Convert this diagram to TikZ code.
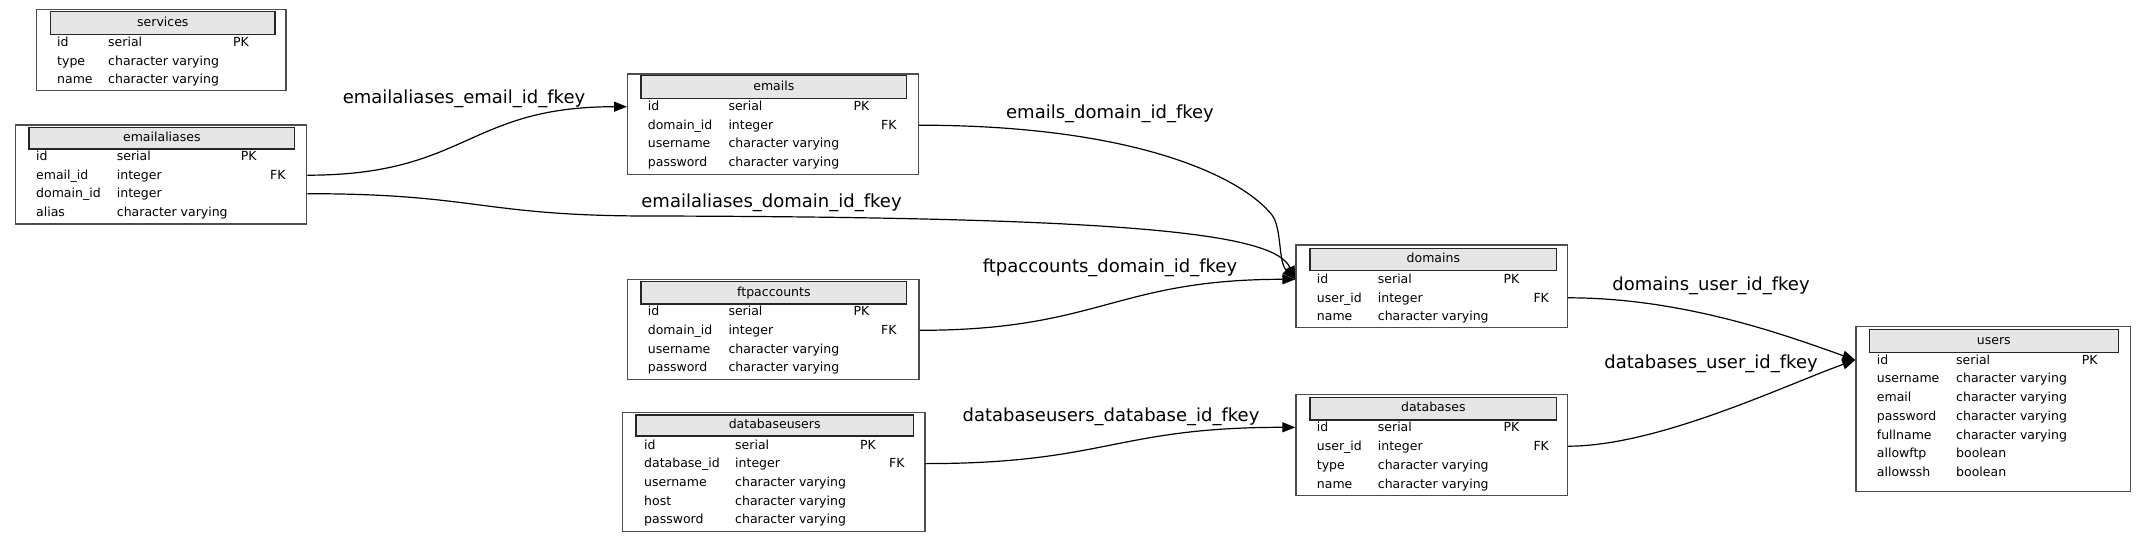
\documentclass[tikz,border=0pt]{standalone}
\usepackage{fontspec}
\setmainfont{DejaVu Sans}
\usepackage{xcolor}
\usepackage{tikz}
\usetikzlibrary{arrows.meta}

\definecolor{hdrgray}{HTML}{E6E6E6}
\definecolor{boxgray}{HTML}{4D4D4D}

\begin{document}
\begin{tikzpicture}[x=1pt, y=-1pt,
    tbl/.style = {draw=boxgray, line width=1.4pt, inner sep=0pt},
    hdr/.style = {draw=black!85, fill=hdrgray, line width=1.2pt, inner sep=0pt, font=\fontsize{12.5}{15}\selectfont, text height=9.5pt, text depth=3pt},
    fld/.style = {anchor=west, inner sep=0pt, font=\fontsize{12.5}{15}\selectfont, text height=10.5pt, text depth=2pt},
    fk/.style = {line width=1.2pt, -{Triangle[length=13pt, width=10pt]}},
    lbl/.style = {inner sep=0pt, font=\fontsize{18}{22}\selectfont, text height=15.5pt, text depth=4.5pt}]
    \useasboundingbox (0,0) rectangle (2147,541);

    % 表定义
    \node[tbl, minimum width=249.3pt, minimum height=81.4pt] (services) at (161.35,50) {};
    \node[hdr, minimum width=224.3pt, minimum height=22.6pt] (services-h) at (162.85,23) {services};
    \foreach \f/\t [count=\i] in {id/serial, type/character varying, name/character varying} {
        \node[fld] (services-\i) at (57,{42.7+18.5*(\i-1)}) {\f};
        \node[fld] (services-t\i) at (108,{42.7+18.5*(\i-1)}) {\t};
    }
    \node[fld] (services-pk) at (233,42.7) {PK};

    \node[tbl, minimum width=291pt, minimum height=99pt] (emailaliases) at (161.2,174.5) {};
    \node[hdr, minimum width=265.7pt, minimum height=21.3pt] (emailaliases-h) at (161.85,138.35) {emailaliases};
    \foreach \f/\t [count=\i] in {id/serial, email\_id/integer, domain\_id/integer, alias/character varying} {
        \node[fld] (emailaliases-\i) at (36,{156.7+18.5*(\i-1)}) {\f};
        \node[fld] (emailaliases-t\i) at (116.7,{156.7+18.5*(\i-1)}) {\t};
    }
    \node[fld] (emailaliases-pk) at (240.7,156.7) {PK};
    \node[fld] (emailaliases-fk) at (270,175.2) {FK};

    \node[tbl, minimum width=290.6pt, minimum height=100.3pt] (emails) at (773,124.15) {};
    \node[hdr, minimum width=265.7pt, minimum height=22.6pt] (emails-h) at (773.85,87) {emails};
    \foreach \f/\t [count=\i] in {id/serial, domain\_id/integer, username/character varying, password/character varying} {
        \node[fld] (emails-\i) at (647.7,{106.7+18.5*(\i-1)}) {\f};
        \node[fld] (emails-t\i) at (728.3,{106.7+18.5*(\i-1)}) {\t};
    }
    \node[fld] (emails-pk) at (853.3,106.7) {PK};
    \node[fld] (emails-fk) at (881,125.2) {FK};

    \node[tbl, minimum width=291.3pt, minimum height=100pt] (ftpaccounts) at (773.35,329.3) {};
    \node[hdr, minimum width=265.7pt, minimum height=22.3pt] (ftpaccounts-h) at (773.85,292.85) {ftpaccounts};
    \foreach \f/\t [count=\i] in {id/serial, domain\_id/integer, username/character varying, password/character varying} {
        \node[fld] (ftpaccounts-\i) at (647.7,{311.7+18.6*(\i-1)}) {\f};
        \node[fld] (ftpaccounts-t\i) at (728.3,{311.7+18.6*(\i-1)}) {\t};
    }
    \node[fld] (ftpaccounts-pk) at (853.3,311.7) {PK};
    \node[fld] (ftpaccounts-fk) at (881,330.3) {FK};

    \node[tbl, minimum width=302.7pt, minimum height=119pt] (databaseusers) at (773.65,472.2) {};
    \node[hdr, minimum width=277.3pt, minimum height=21pt] (databaseusers-h) at (774.65,425.5) {databaseusers};
    \foreach \f/\t [count=\i] in {id/serial, database\_id/integer, username/character varying, host/character varying, password/character varying} {
        \node[fld] (databaseusers-\i) at (644,{445+18.6*(\i-1)}) {\f};
        \node[fld] (databaseusers-t\i) at (735,{445+18.6*(\i-1)}) {\t};
    }
    \node[fld] (databaseusers-pk) at (860,445) {PK};
    \node[fld] (databaseusers-fk) at (889,463.6) {FK};

    \node[tbl, minimum width=271.3pt, minimum height=82.3pt] (domains) at (1431.65,286.15) {};
    \node[hdr, minimum width=246.7pt, minimum height=22.4pt] (domains-h) at (1433.35,259.5) {domains};
    \foreach \f/\t [count=\i] in {id/serial, user\_id/integer, name/character varying} {
        \node[fld] (domains-\i) at (1316.7,{279.3+18.5*(\i-1)}) {\f};
        \node[fld] (domains-t\i) at (1377.7,{279.3+18.5*(\i-1)}) {\t};
    }
    \node[fld] (domains-pk) at (1503.3,279.3) {PK};
    \node[fld] (domains-fk) at (1533.3,297.8) {FK};

    \node[tbl, minimum width=271.3pt, minimum height=101.4pt] (databases) at (1431.65,445) {};
    \node[hdr, minimum width=246.7pt, minimum height=22.7pt] (databases-h) at (1433.35,408.65) {databases};
    \foreach \f/\t [count=\i] in {id/serial, user\_id/integer, type/character varying, name/character varying} {
        \node[fld] (databases-\i) at (1316.7,{427.3+18.9*(\i-1)}) {\f};
        \node[fld] (databases-t\i) at (1377.7,{427.3+18.9*(\i-1)}) {\t};
    }
    \node[fld] (databases-pk) at (1503.3,427.3) {PK};
    \node[fld] (databases-fk) at (1533.3,446.2) {FK};

    \node[tbl, minimum width=274.7pt, minimum height=165pt] (users) at (1993.35,409.2) {};
    \node[hdr, minimum width=249pt, minimum height=23.4pt] (users-h) at (1993.8,341) {users};
    \foreach \f/\t [count=\i] in {id/serial, username/character varying, email/character varying, password/character varying, fullname/character varying, allowftp/boolean, allowssh/boolean} {
        \node[fld] (users-\i) at (1876.7,{360+18.7*(\i-1)}) {\f};
        \node[fld] (users-t\i) at (1956,{360+18.7*(\i-1)}) {\t};
    }
    \node[fld] (users-pk) at (2081.7,360) {PK};

    % 边定义
    \draw[fk] (emailaliases.east |- emailaliases-2) .. controls +(160,0) and +(-160,0) .. (emails.west |- emails-1);
    \draw[fk] (emailaliases.east |- emailaliases-3) .. controls +(170,0) and +(-170,0) .. (650,216) .. controls (1150,217) and (1275,235) .. (domains.west |- domains-1);
    \draw[fk] (emails.east |- emails-2) .. controls +(212,0) and (1240,175) .. (1272,215) .. controls (1282,228) and (1278,262) .. (domains.west |- domains-1);
    \draw[fk] (ftpaccounts.east |- ftpaccounts-2) .. controls +(180,0) and +(-180,0) .. (domains.west |- domains-1);
    \draw[fk] (databaseusers.east |- databaseusers-2) .. controls +(180,0) and +(-180,0) .. (databases.west |- databases-1);
    \draw[fk] (domains.east |- domains-2) .. controls +(115,0) and +(-70,-25) .. (users.west |- users-1);
    \draw[fk] (databases.east |- databases-2) .. controls +(90,0) and +(-70,25) .. (users.west |- users-1);

    % 标签
    \node[lbl] (emailaliases-email-lbl) at (464,98) {emailaliases\_email\_id\_fkey};
    \node[lbl] (emailaliases-domain-lbl) at (771.5,201.7) {emailaliases\_domain\_id\_fkey};
    \node[lbl] (emails-domain-lbl) at (1110,113) {emails\_domain\_id\_fkey};
    \node[lbl] (ftpaccounts-domain-lbl) at (1110,267) {ftpaccounts\_domain\_id\_fkey};
    \node[lbl] (databaseusers-database-lbl) at (1111,416) {databaseusers\_database\_id\_fkey};
    \node[lbl] (domains-user-lbl) at (1711,285) {domains\_user\_id\_fkey};
    \node[lbl] (databases-user-lbl) at (1711,363.3) {databases\_user\_id\_fkey};
\end{tikzpicture}
\end{document}
